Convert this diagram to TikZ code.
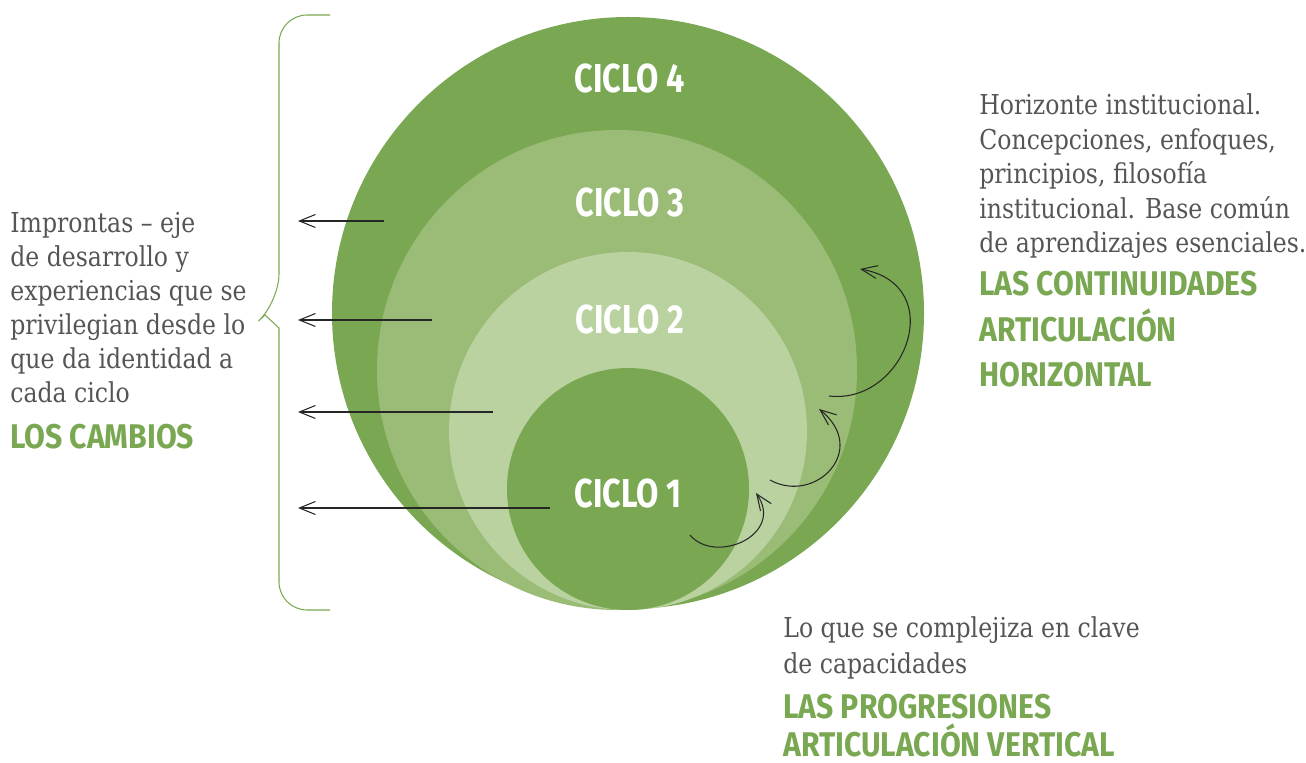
\documentclass[tikz,border=0pt]{standalone}
\usepackage{fontspec}
\usetikzlibrary{arrows.meta}

\newfontfamily\bodyfont{DejaVu Serif}[FakeStretch=0.86]
\newfontfamily\headfont{Fira Sans}[FakeStretch=0.88]
\newfontfamily\ciclofont{Fira Sans}[FakeStretch=0.8]

\definecolor{leafgreen}{HTML}{7AA852}
\definecolor{midgreen}{HTML}{9BBC77}
\definecolor{palegreen}{HTML}{B9D2A0}
\definecolor{textgrey}{HTML}{555555}

\tikzset{
  body/.style={font=\bodyfont\fontsize{15.6}{18}\selectfont, text=textgrey,
               anchor=base west, inner sep=0pt},
  head/.style={font=\headfont\bfseries\fontsize{19.5}{22}\selectfont, text=leafgreen,
               anchor=base west, inner sep=0pt},
  ciclo/.style={font=\ciclofont\bfseries\fontsize{23}{26}\selectfont, text=white,
                inner sep=0pt},
  lead/.style={draw=black!85, line width=0.6pt,
               -{Straight Barb[length=3.2mm,width=2.6mm]}},
}

\begin{document}
\begin{tikzpicture}[x=0.02cm,y=-0.02cm]
   \useasboundingbox (0,0) rectangle (1306,763);

   % the four rings, all touching at the bottom
   \fill[leafgreen] (628,313) circle[radius=296];
   \fill[midgreen]  (617,370) circle[radius=240];
   \fill[palegreen] (628,431) circle[radius=179];
   \fill[leafgreen] (628,489) circle[radius=121];

   \node[ciclo] (c4) at (630,79)  {CICLO 4};
   \node[ciclo] (c3) at (630,203) {CICLO 3};
   \node[ciclo] (c2) at (630,320) {CICLO 2};
   \node[ciclo] (c1) at (628,493) {CICLO 1};

   % brace
   \draw[leafgreen, line width=0.6pt, rounded corners=16]
      (330,15) -- (279,15) -- (279,302) [sharp corners] -- (265,315) -- (279,328)
      [rounded corners=16] -- (279,610) -- (330,610);

   % straight arrows to the left
   \foreach \y/\x [count=\i] in {221/384, 320/432, 412/493, 508/550}{
      \coordinate (s\i) at (\x,\y);
      \coordinate (e\i) at (298,\y);
      \draw[lead] (s\i) -- (e\i);
   }

   % curved arrows
   \coordinate (a1) at (690,535);  \coordinate (b1) at (756,493);
   \coordinate (a2) at (770,480);  \coordinate (b2) at (819,409);
   \coordinate (a3) at (829,396);  \coordinate (b3) at (860,269);
   \draw[lead] (a1) .. controls (715,565) and (785,535) .. (b1);
   \draw[lead] (a2) .. controls (815,505) and (870,450) .. (b2);
   \draw[lead] (a3) .. controls (905,405) and (950,285) .. (b3);

   % left text
   \node[body] (l1) at (10,233) {Improntas – eje};
   \node[body] (l2) at (10,267) {de desarrollo y};
   \node[body] (l3) at (10,301) {experiencias que se};
   \node[body] (l4) at (10,335) {privilegian desde lo};
   \node[body] (l5) at (10,369) {que da identidad a};
   \node[body] (l6) at (10,403) {cada ciclo};
   \node[head] (l7) at (10,449) {LOS CAMBIOS};

   % right text
   \node[body] (r1) at (979,115) {Horizonte institucional.};
   \node[body] (r2) at (979,149.5) {Concepciones, enfoques,};
   \node[body] (r3) at (979,184) {principios, filosofía};
   \node[body] (r4) at (979,218.5) {institucional. Base común};
   \node[body] (r5) at (979,253) {de aprendizajes esenciales.};
   \node[head] (r6) at (979,296) {LAS CONTINUIDADES};
   \node[head] (r7) at (979,342) {ARTICULACIÓN};
   \node[head] (r8) at (979,387) {HORIZONTAL};

   % bottom text
   \node[body] (b1t) at (783,638) {Lo que se complejiza en clave};
   \node[body] (b2t) at (783,673) {de capacidades};
   \node[head] (b3t) at (783,718) {LAS PROGRESIONES};
   \node[head] (b4t) at (783,756) {ARTICULACIÓN VERTICAL};
\end{tikzpicture}
\end{document}
